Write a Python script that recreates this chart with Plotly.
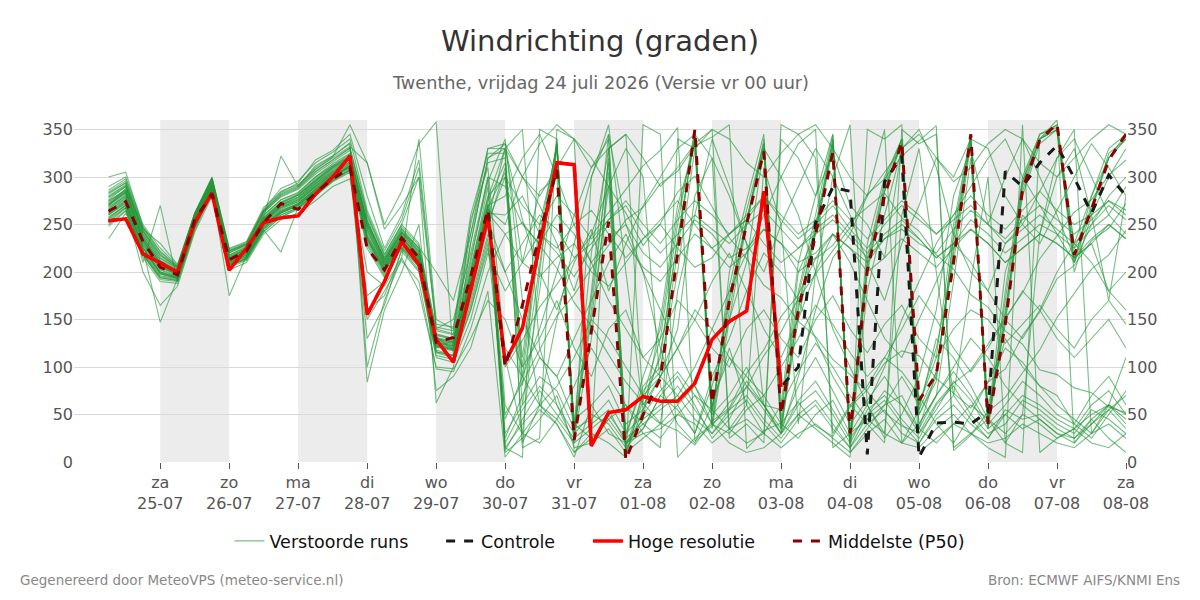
import pandas as pd
import plotly.graph_objects as go

# ---------------- data ----------------
start_time = "2026-07-24 06:00"
n_steps = 60
hres_steps = 40

day_labels = ["za", "zo", "ma", "di", "wo", "do", "vr", "za", "zo", "ma", "di", "wo", "do", "vr", "za"]
date_labels = ["25-07", "26-07", "27-07", "28-07", "29-07", "30-07", "31-07", "01-08",
               "02-08", "03-08", "04-08", "05-08", "06-08", "07-08", "08-08"]
tick_dates = ["2026-07-25", "2026-07-26", "2026-07-27", "2026-07-28", "2026-07-29", "2026-07-30",
              "2026-07-31", "2026-08-01", "2026-08-02", "2026-08-03", "2026-08-04", "2026-08-05",
              "2026-08-06", "2026-08-07", "2026-08-08"]
band_starts = ["2026-07-25", "2026-07-27", "2026-07-29", "2026-07-31", "2026-08-02", "2026-08-04", "2026-08-06"]
band_ends = ["2026-07-26", "2026-07-28", "2026-07-30", "2026-08-01", "2026-08-03", "2026-08-05", "2026-08-07"]
y_ticks = [0, 50, 100, 150, 200, 250, 300, 350]

hoge_resolutie = [254, 256, 219, 210, 200, 252, 283, 202, 225, 252, 257, 259, 282, 300, 322, 155, 190, 232, 208, 129,
                  105, 181, 258, 105, 141, 228, 315, 313, 17, 52, 55, 69, 64, 64, 83, 129, 148, 159, 285, 79]

controle = [254, 256, 219, 210, 200, 252, 283, 202, 225, 252, 257, 259, 282, 300, 322, 155, 190, 232, 208, 129,
            105, 181, 258, 105, 141, 228, 315, 313, 17, 52, 55, 69, 64, 64, 83, 129, 148, 159, 285, 79,
            100, 252, 289, 285, 8, 295, 322, 5, 41, 42, 40, 53, 306, 290, 315, 333, 299, 262, 302, 280]

middelste_p50 = [264, 274, 232, 205, 197, 255, 282, 213, 222, 252, 272, 266, 283, 298, 310, 225, 202, 236, 215, 126,
                 131, 195, 266, 100, 165, 240, 308, 23, 138, 253, 2, 50, 88, 220, 350, 62, 170, 250, 327, 50,
                 160, 239, 326, 30, 202, 280, 337, 65, 92, 210, 345, 40, 145, 287, 339, 356, 218, 266, 318, 345]

verstoorde_runs = [
    [272, 284, 236, 208, 199, 256, 293, 216, 224, 256, 272, 281, 296, 310, 320, 255, 212, 244, 222, 132, 118, 175, 248,
     310, 90, 230, 335, 30, 160, 320, 15, 70, 130, 250, 350, 40, 200, 275, 345, 35, 150, 240, 330, 20, 230, 300, 340, 60, 110, 250, 345, 35, 180, 300, 345, 355, 230, 280, 330, 345],
    [258, 270, 220, 195, 192, 248, 286, 208, 215, 246, 262, 270, 285, 300, 312, 235, 200, 230, 205, 115, 110, 200, 290,
     15, 40, 60, 45, 20, 35, 50, 25, 40, 55, 70, 45, 30, 50, 65, 40, 20, 45, 60, 35, 15, 40, 55, 30, 20, 45, 60, 40, 25, 50, 35, 45, 30, 20, 40, 55, 35],
    [280, 292, 242, 215, 204, 262, 298, 220, 228, 262, 280, 288, 305, 318, 330, 260, 218, 250, 300, 140, 135, 230, 320,
     335, 210, 285, 300, 40, 25, 330, 345, 60, 90, 140, 280, 320, 35, 60, 310, 250, 40, 200, 300, 355, 60, 30, 260, 330, 200, 70, 190, 300, 20, 50, 240, 300, 330, 260, 170, 280],
    [262, 276, 226, 198, 194, 250, 288, 210, 218, 250, 265, 272, 288, 302, 310, 230, 198, 226, 210, 120, 128, 210, 300,
     290, 250, 230, 260, 240, 210, 235, 250, 220, 205, 230, 255, 240, 215, 225, 245, 230, 200, 215, 240, 225, 210, 235, 250, 235, 215, 230, 255, 240, 220, 235, 250, 240, 225, 245, 260, 240],
    [300, 305, 248, 222, 206, 258, 295, 214, 226, 258, 322, 290, 312, 322, 335, 100, 170, 215, 340, 150, 140, 250, 330,
     330, 350, 120, 60, 20, 300, 355, 200, 55, 40, 180, 260, 340, 290, 230, 60, 30, 90, 160, 215, 240, 280, 350, 20, 55, 130, 110, 80, 45, 200, 260, 240, 320, 350, 30, 60, 110],
    [250, 265, 215, 190, 188, 244, 284, 205, 212, 242, 258, 266, 280, 295, 305, 160, 175, 222, 200, 110, 105, 150, 220,
     180, 210, 240, 220, 195, 225, 250, 230, 205, 190, 215, 240, 225, 205, 220, 245, 230, 210, 220, 240, 225, 200, 215, 235, 220, 205, 225, 245, 230, 210, 225, 240, 230, 215, 230, 250, 235],
    [268, 282, 230, 205, 197, 253, 291, 212, 221, 253, 270, 277, 293, 306, 318, 245, 208, 238, 214, 126, 122, 185, 260,
     20, 55, 80, 60, 30, 50, 40, 15, 35, 70, 90, 60, 25, 45, 80, 55, 30, 60, 75, 50, 20, 55, 70, 45, 25, 60, 80, 50, 30, 40, 65, 55, 40, 30, 55, 45, 30],
    [276, 290, 240, 212, 201, 259, 296, 218, 226, 260, 276, 284, 300, 314, 325, 250, 215, 246, 225, 135, 130, 205, 280,
     300, 60, 180, 330, 40, 220, 330, 30, 80, 100, 200, 330, 35, 150, 250, 340, 60, 210, 280, 345, 15, 180, 260, 330, 40, 70, 190, 320, 45, 160, 280, 335, 350, 200, 260, 300, 330],
    [235, 262, 222, 200, 195, 250, 289, 211, 219, 251, 266, 274, 290, 303, 313, 238, 204, 234, 212, 124, 120, 195, 270,
     12, 45, 75, 50, 25, 40, 55, 20, 45, 60, 80, 55, 30, 55, 70, 45, 25, 50, 65, 40, 15, 50, 65, 40, 20, 50, 70, 45, 25, 55, 45, 50, 35, 25, 45, 60, 40],
    [264, 278, 210, 270, 190, 247, 283, 206, 214, 244, 221, 268, 282, 296, 308, 175, 190, 228, 208, 118, 112, 170, 240,
     200, 230, 260, 245, 215, 230, 255, 270, 240, 220, 240, 260, 245, 230, 250, 265, 245, 225, 240, 255, 235, 215, 235, 245, 230, 220, 245, 265, 250, 230, 245, 260, 245, 230, 250, 270, 255],
    [270, 288, 245, 230, 208, 262, 300, 225, 232, 268, 284, 294, 318, 328, 345, 280, 225, 260, 318, 145, 142, 260, 325,
     325, 20, 60, 150, 230, 300, 345, 250, 200, 120, 60, 30, 80, 150, 210, 330, 300, 260, 200, 140, 100, 60, 25, 50, 90, 160, 280, 330, 250, 300, 340, 300, 260, 215, 230, 180, 200],
    [255, 268, 200, 165, 185, 242, 280, 202, 210, 240, 255, 262, 275, 290, 298, 200, 185, 215, 180, 100, 98, 130, 170,
     150, 100, 130, 170, 120, 90, 140, 160, 110, 130, 170, 150, 120, 100, 140, 160, 130, 110, 150, 175, 140, 115, 145, 165, 130, 110, 140, 160, 150, 125, 145, 165, 140, 120, 150, 170, 145],
    [266, 281, 232, 206, 198, 254, 291, 213, 221, 254, 269, 276, 291, 305, 316, 242, 207, 236, 216, 128, 124, 188, 265,
     10, 25, 45, 70, 15, 20, 35, 10, 25, 40, 60, 80, 40, 30, 55, 70, 40, 25, 50, 65, 30, 45, 60, 70, 35, 20, 40, 60, 45, 30, 50, 40, 25, 35, 50, 60, 45],
    [282, 294, 244, 218, 205, 260, 297, 222, 230, 265, 285, 292, 308, 320, 332, 315, 250, 285, 335, 358, 110, 255, 310,
     110, 30, 200, 340, 35, 180, 345, 25, 90, 140, 260, 340, 55, 170, 250, 330, 45, 200, 240, 335, 20, 200, 285, 340, 35, 95, 220, 340, 45, 170, 295, 340, 360, 210, 280, 320, 340],
    [260, 272, 224, 147, 193, 249, 287, 175, 217, 248, 263, 271, 286, 300, 310, 232, 200, 232, 211, 122, 118, 182, 255,
     330, 300, 280, 310, 340, 320, 290, 262, 228, 251, 284, 301, 268, 236, 214, 186, 173, 148, 132, 108, 92, 74, 52, 38, 31, 62, 83, 97, 124, 152, 178, 214, 238, 263, 276, 302, 318],
    [274, 287, 238, 209, 200, 257, 294, 217, 225, 258, 274, 282, 298, 312, 322, 252, 213, 242, 226, 200, 170, 240, 330,
     335, 300, 270, 230, 180, 240, 290, 330, 300, 80, 40, 20, 60, 120, 60, 30, 340, 320, 280, 325, 270, 250, 215, 330, 350, 310, 240, 200, 180, 230, 250, 285, 320, 340, 300, 260, 290],
    [262, 275, 226, 200, 194, 251, 288, 210, 218, 249, 264, 272, 287, 301, 312, 236, 203, 233, 213, 123, 119, 186, 262,
     260, 280, 240, 225, 250, 265, 240, 215, 235, 255, 275, 250, 225, 240, 260, 280, 255, 235, 250, 270, 245, 225, 250, 270, 255, 240, 260, 280, 260, 245, 265, 285, 265, 250, 260, 275, 265],
    [290, 300, 250, 225, 207, 261, 299, 224, 231, 266, 288, 296, 315, 326, 340, 265, 222, 255, 310, 142, 138, 240, 315,
     320, 100, 240, 335, 25, 130, 305, 10, 65, 110, 235, 345, 50, 185, 265, 335, 35, 175, 250, 340, 25, 210, 290, 335, 50, 90, 235, 340, 40, 150, 290, 340, 350, 215, 270, 320, 345],
    [248, 264, 218, 192, 190, 246, 285, 207, 213, 243, 258, 267, 281, 296, 306, 130, 165, 224, 202, 112, 108, 160, 230,
     50, 84, 118, 154, 176, 204, 228, 255, 268, 293, 306, 333, 342, 355, 14, 33, 41, 63, 38, 27, 58, 76, 104, 117, 112, 88, 73, 57, 84, 98, 133, 158, 193, 207, 233, 246, 272],
    [270, 283, 234, 207, 199, 255, 292, 214, 222, 255, 271, 279, 294, 308, 319, 248, 210, 240, 218, 130, 126, 192, 272,
     25, 70, 110, 90, 45, 60, 80, 40, 55, 90, 120, 80, 50, 70, 100, 60, 35, 80, 110, 75, 40, 65, 90, 60, 35, 70, 95, 70, 40, 60, 85, 70, 50, 40, 70, 90, 60],
    [257, 271, 221, 196, 193, 249, 287, 209, 216, 247, 262, 270, 284, 299, 309, 150, 180, 212, 190, 98, 95, 140, 200,
     240, 252, 228, 204, 168, 143, 113, 84, 62, 41, 33, 18, 43, 57, 93, 118, 153, 176, 214, 228, 253, 268, 283, 257, 243, 218, 203, 176, 163, 138, 124, 97, 92, 78, 73, 58, 52],
    [279, 291, 243, 214, 203, 260, 297, 220, 229, 263, 279, 287, 303, 316, 328, 258, 216, 248, 228, 138, 134, 215, 295,
     340, 170, 60, 40, 5, 60, 30, 20, 45, 150, 270, 335, 65, 110, 80, 60, 55, 180, 260, 345, 10, 35, 60, 90, 60, 120, 210, 335, 60, 130, 100, 80, 70, 40, 25, 50, 75],
    [264, 277, 228, 202, 195, 252, 289, 211, 220, 252, 267, 274, 289, 303, 314, 240, 205, 236, 215, 125, 121, 185, 262,
     240, 210, 195, 215, 230, 200, 185, 210, 235, 250, 225, 205, 215, 240, 255, 230, 210, 225, 245, 260, 240, 220, 240, 255, 235, 215, 230, 245, 230, 210, 225, 240, 230, 215, 235, 250, 235],
    [286, 298, 247, 221, 206, 262, 299, 223, 230, 264, 283, 291, 310, 322, 336, 84, 160, 200, 250, 75, 90, 120, 180,
     5, 30, 55, 40, 10, 25, 45, 20, 30, 35, 50, 40, 20, 35, 45, 30, 15, 30, 40, 25, 10, 30, 45, 20, 15, 35, 50, 30, 20, 25, 40, 30, 20, 15, 30, 40, 25],
    [252, 267, 219, 194, 191, 247, 286, 208, 214, 245, 260, 268, 282, 297, 307, 225, 194, 225, 205, 116, 112, 165, 235,
     100, 128, 163, 187, 214, 238, 262, 287, 312, 328, 352, 22, 38, 63, 78, 112, 137, 172, 198, 223, 247, 282, 298, 322, 338, 354, 12, 28, 53, 68, 94, 118, 152, 177, 203, 218, 244],
    [275, 286, 237, 210, 200, 256, 293, 216, 224, 257, 273, 281, 297, 311, 321, 253, 213, 242, 222, 133, 129, 198, 275,
     315, 110, 250, 330, 35, 150, 290, 5, 75, 95, 220, 350, 40, 160, 255, 330, 30, 165, 245, 335, 30, 215, 295, 340, 50, 85, 240, 345, 35, 155, 295, 345, 352, 225, 265, 325, 340],
    [268, 280, 231, 205, 197, 253, 290, 212, 220, 253, 268, 276, 292, 305, 316, 244, 207, 237, 217, 127, 123, 188, 265,
     30, 60, 90, 75, 35, 45, 65, 30, 50, 75, 95, 70, 40, 55, 85, 60, 30, 65, 85, 55, 25, 50, 75, 60, 30, 55, 85, 65, 35, 50, 70, 60, 45, 35, 60, 75, 50],
    [284, 296, 246, 219, 205, 261, 298, 222, 229, 264, 282, 290, 308, 321, 355, 315, 245, 270, 300, 62, 100, 230, 320,
     330, 255, 200, 160, 210, 245, 180, 230, 270, 300, 330, 345, 320, 280, 230, 200, 250, 290, 330, 300, 260, 210, 170, 230, 270, 320, 300, 340, 330, 280, 250, 230, 265, 300, 335, 310, 280],
    [260, 273, 225, 199, 193, 250, 288, 209, 217, 249, 263, 271, 287, 301, 311, 234, 201, 232, 212, 121, 117, 180, 252,
     300, 270, 250, 280, 260, 235, 255, 275, 250, 230, 255, 275, 260, 240, 255, 280, 260, 240, 255, 275, 255, 235, 255, 275, 260, 240, 255, 270, 250, 235, 255, 270, 255, 240, 255, 275, 260],
    [271, 285, 234, 207, 198, 255, 292, 214, 223, 256, 271, 279, 295, 309, 320, 249, 210, 241, 220, 131, 127, 193, 268,
     305, 80, 210, 335, 30, 170, 315, 10, 55, 115, 235, 340, 55, 175, 255, 335, 40, 160, 245, 340, 25, 205, 285, 335, 55, 95, 225, 340, 45, 145, 285, 340, 350, 210, 265, 320, 340],
    [266, 279, 229, 203, 196, 253, 290, 212, 220, 253, 268, 275, 290, 304, 315, 238, 206, 236, 214, 126, 122, 186, 262,
     45, 90, 140, 200, 260, 310, 340, 20, 35, 70, 55, 30, 90, 130, 180, 220, 200, 170, 130, 90, 60, 80, 110, 95, 70, 40, 20, 50, 85, 120, 105, 80, 60, 45, 30, 55, 70],
    [278, 290, 240, 212, 202, 258, 295, 218, 227, 260, 276, 283, 300, 312, 324, 254, 214, 245, 224, 134, 130, 200, 278,
     330, 15, 25, 350, 340, 20, 45, 60, 30, 15, 340, 330, 350, 25, 40, 20, 355, 345, 320, 30, 60, 40, 20, 350, 335, 345, 15, 30, 45, 20, 10, 340, 355, 20, 45, 25, 10],
    [256, 270, 222, 198, 193, 249, 287, 209, 216, 247, 262, 270, 285, 300, 311, 236, 202, 232, 212, 122, 118, 181, 256,
     200, 150, 110, 90, 130, 170, 210, 240, 200, 160, 120, 150, 190, 220, 180, 140, 110, 150, 200, 240, 210, 170, 130, 110, 150, 190, 230, 210, 180, 150, 130, 160, 200, 230, 210, 180, 160],
    [273, 286, 236, 209, 199, 256, 293, 215, 223, 257, 273, 281, 296, 310, 322, 250, 211, 242, 220, 130, 126, 192, 270,
     280, 320, 345, 300, 250, 210, 170, 140, 110, 90, 70, 100, 140, 180, 220, 260, 300, 335, 350, 15, 30, 60, 100, 150, 190, 230, 260, 290, 320, 340, 300, 270, 240, 210, 250, 280, 300],
    [261, 274, 225, 200, 194, 251, 288, 210, 218, 250, 264, 272, 287, 301, 312, 235, 203, 233, 212, 123, 119, 185, 260,
     60, 30, 20, 45, 80, 120, 90, 60, 40, 25, 50, 70, 55, 35, 20, 30, 60, 95, 125, 100, 70, 45, 30, 20, 40, 70, 100, 130, 110, 80, 60, 45, 30, 25, 40, 60, 50],
    [270, 284, 233, 206, 198, 254, 291, 213, 221, 254, 270, 278, 293, 307, 318, 246, 209, 239, 218, 129, 125, 190, 266,
     250, 300, 335, 355, 340, 310, 330, 345, 320, 290, 310, 335, 350, 340, 315, 300, 325, 345, 355, 330, 300, 280, 305, 330, 345, 320, 295, 310, 335, 350, 340, 315, 300, 320, 340, 355, 345],
    [283, 294, 244, 217, 204, 260, 297, 221, 229, 264, 281, 289, 306, 318, 331, 262, 219, 250, 230, 140, 150, 220, 300,
     15, 5, 350, 340, 10, 30, 20, 5, 355, 345, 5, 25, 40, 20, 10, 15, 30, 50, 35, 20, 5, 350, 340, 355, 10, 25, 40, 30, 15, 5, 355, 10, 25, 35, 20, 15, 30],
    [253, 268, 218, 194, 191, 247, 286, 207, 214, 245, 260, 268, 283, 298, 307, 228, 196, 226, 206, 116, 112, 160, 225,
     120, 90, 60, 80, 110, 150, 130, 100, 70, 90, 120, 160, 140, 110, 90, 70, 100, 130, 165, 145, 115, 90, 110, 140, 175, 150, 120, 95, 120, 150, 180, 160, 130, 110, 130, 150, 120],
]

for run in verstoorde_runs:
    assert len(run) == n_steps, len(run)
assert len(controle) == n_steps and len(middelste_p50) == n_steps and len(hoge_resolutie) == hres_steps

times = pd.date_range(start_time, periods=n_steps, freq="6h")

# ---------------- figure ----------------
FONT = "DejaVu Sans"
PAD = "\u00a0" * 5
fig = go.Figure()

for i, run in enumerate(verstoorde_runs):
    fig.add_trace(go.Scatter(
        x=times, y=run, mode="lines",
        line=dict(color="rgba(36,150,56,0.62)", width=1.1),
        name="Verstoorde runs" + PAD, legendgroup="ens", showlegend=(i == 0),
        hoverinfo="skip",
    ))

fig.add_trace(go.Scatter(x=times, y=controle, mode="lines",
                         line=dict(color="#1a1a1a", width=3, dash="dash"),
                         name="Controle" + PAD))
fig.add_trace(go.Scatter(x=times[:hres_steps], y=hoge_resolutie, mode="lines",
                         line=dict(color="#ff0000", width=3.5),
                         name="Hoge resolutie" + PAD))
fig.add_trace(go.Scatter(x=times, y=middelste_p50, mode="lines",
                         line=dict(color="#8b0000", width=3, dash="dash"),
                         name="Middelste (P50)"))
# helper for right axis
fig.add_trace(go.Scatter(x=[times[0]], y=[0], yaxis="y2", mode="markers",
                         marker=dict(opacity=0), showlegend=False, hoverinfo="skip"))

shapes = []
for s, e in zip(band_starts, band_ends):
    shapes.append(dict(type="rect", xref="x", yref="paper", x0=s, x1=e, y0=0, y1=1,
                       fillcolor="#ececec", line=dict(width=0), layer="below"))

tick_text = [f"{d}<br>{t}" for d, t in zip(day_labels, date_labels)]

H = 342.0
W = 1052.0
def py(pix):
    return (462 - pix) / H
def px(pix):
    return (pix - 74) / W

fig.update_layout(
    width=1200, height=600,
    margin=dict(l=74, r=74, t=120, b=138),
    paper_bgcolor="white", plot_bgcolor="white",
    font=dict(family=FONT, color="#555555", size=16),
    shapes=shapes,
    showlegend=True,
    legend=dict(orientation="h", x=0.5, xanchor="center", y=py(541), yanchor="middle",
                font=dict(family=FONT, size=17.5, color="#111111"), bgcolor="rgba(0,0,0,0)",
                itemwidth=30),
    xaxis=dict(type="date", range=["2026-07-23 18:00", "2026-08-08 00:00"],
               tickvals=tick_dates, ticktext=tick_text, ticks="outside", ticklen=6,
               tickcolor="#555555", showgrid=False, zeroline=False, showline=False,
               tickfont=dict(family=FONT, size=16, color="#555555")),
    yaxis=dict(range=[0, 360], tickvals=y_ticks, showgrid=True, gridcolor="#d9d9d9",
               zeroline=False, showline=False, ticks="",
               tickfont=dict(family=FONT, size=16, color="#555555")),
    yaxis2=dict(range=[0, 360], tickvals=y_ticks, overlaying="y", side="right",
                showgrid=False, zeroline=False, showline=False, ticks="",
                tickfont=dict(family=FONT, size=16, color="#555555")),
    annotations=[
        dict(text="Windrichting (graden)", xref="paper", yref="paper", x=px(600), y=py(41),
             xanchor="center", yanchor="middle", showarrow=False,
             font=dict(family=FONT, size=29, color="#333333")),
        dict(text="Twenthe, vrijdag 24 juli 2026 (Versie vr 00 uur)", xref="paper", yref="paper",
             x=px(600), y=py(83), xanchor="center", yanchor="middle", showarrow=False,
             font=dict(family=FONT, size=17.7, color="#666666")),
        dict(text="Gegenereerd door MeteoVPS (meteo-service.nl)", xref="paper", yref="paper",
             x=px(18), y=py(580), xanchor="left", yanchor="middle", showarrow=False,
             font=dict(family=FONT, size=13.5, color="#888888")),
        dict(text="Bron: ECMWF AIFS/KNMI Ens", xref="paper", yref="paper",
             x=px(1182), y=py(580), xanchor="right", yanchor="middle", showarrow=False,
             font=dict(family=FONT, size=13.5, color="#888888")),
    ],
    hovermode=False,
)

fig.write_html("out.html")
